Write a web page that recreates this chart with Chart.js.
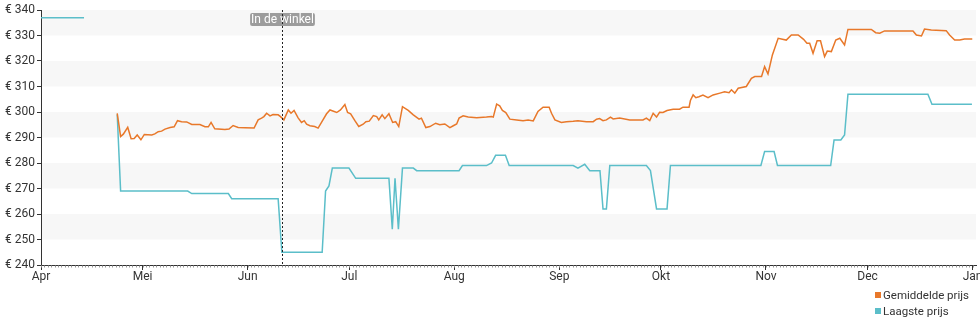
<!DOCTYPE html>
<html>
<head>
<meta charset="utf-8">
<script src="https://cdn.jsdelivr.net/npm/chart.js@4"></script>
<style>
  body { margin: 0; background: #fff; }
  #wrap { position: relative; width: 980px; height: 325px; }
  #legend { position: absolute; left: 875px; top: 288px; font: 11.5px Roboto, sans-serif; color: #333; line-height: 15.5px; }
  #legend .sq { display: inline-block; width: 6px; height: 6px; margin-right: 2px; vertical-align: 1px; }
</style>
</head>
<body>
<div id="wrap">
  <canvas id="priceChart" width="980" height="325"></canvas>
  <div id="legend"></div>
</div>
<script>
// x values are days counted from 1 April
const monthStarts = [0, 30, 61, 91, 122, 153, 183, 214, 244, 275];
const monthLabels = ['Apr', 'Mei', 'Jun', 'Jul', 'Aug', 'Sep', 'Okt', 'Nov', 'Dec', 'Jan'];
const yTicks = [240, 250, 260, 270, 280, 290, 300, 310, 320, 330, 340];

const storeDay = 71.1;
const storeLabel = 'In de winkel';

const avgDays = [22.5, 23.5, 24.3, 25.6, 26.6, 27.5, 28.4, 29.5, 30.5, 32.7, 33.6, 34.6, 35.6, 36.6, 38.1, 39.3, 40.3, 41.5, 43.0, 44.5,
  46.9, 48.4, 49.4, 50.2, 51.3, 54.3, 55.5, 56.7, 58.2, 60.2, 62.9, 64.1, 65.1, 65.8, 66.6, 67.6, 68.5, 70.0, 70.7, 71.7,
  73.0, 73.8, 74.7, 75.9, 76.9, 77.7, 78.4, 79.4, 80.8, 81.8, 82.8, 84.3, 85.3, 87.3, 88.4, 89.7, 90.5, 91.4, 92.7, 93.8,
  95.1, 95.9, 96.9, 98.1, 99.1, 99.7, 100.7, 101.5, 102.7, 103.8, 104.7, 105.6, 106.7, 108.4, 109.9, 111.6, 112.3, 113.6, 114.8, 116.5,
  117.7, 119.2, 120.7, 121.7, 122.7, 123.4, 124.6, 126.1, 128.6, 131.5, 133.0, 133.5, 134.5, 135.4, 136.2, 137.2, 138.4, 140.4, 142.3, 143.8,
  145.3, 146.7, 148.2, 150.0, 150.7, 151.7, 153.6, 155.1, 157.1, 158.5, 161.0, 163.0, 164.0, 164.9, 165.9, 166.9, 168.1, 168.9, 170.8, 173.8,
  177.7, 178.7, 179.7, 180.7, 181.7, 182.6, 183.6, 184.8, 186.6, 188.5, 189.5, 191.3, 191.7, 192.5, 193.3, 194.2, 195.4, 196.9, 198.4, 200.4,
  201.8, 203.1, 203.8, 204.8, 205.8, 208.2, 209.7, 210.7, 212.7, 213.6, 214.6, 215.9, 217.6, 220.0, 221.5, 223.5, 225.1, 226.1, 226.9, 227.9,
  229.1, 230.1, 231.3, 232.1, 233.3, 234.6, 235.8, 237.2, 238.2, 245.1, 246.4, 247.6, 249.0, 257.4, 258.4, 259.9, 260.8, 262.8, 267.2, 268.2,
  269.7, 271.2, 272.6, 274.9];
const avgPrices = [299.5, 290.4, 291.3, 294.0, 289.5, 289.6, 291.0, 289.1, 291.2, 291.0, 291.4, 292.3, 292.5, 293.3, 293.9, 294.2, 296.6, 296.2, 296.1, 295.1,
  295.1, 294.2, 294.2, 295.9, 293.4, 293.1, 293.3, 294.7, 293.9, 293.8, 293.7, 296.9, 297.6, 298.2, 299.5, 298.5, 299.0, 298.9, 298.2, 296.9,
  300.8, 299.5, 300.6, 297.7, 295.9, 296.6, 295.2, 294.6, 294.3, 293.7, 295.9, 299.3, 300.8, 299.8, 300.8, 302.9, 299.8, 299.3, 296.5, 294.3,
  295.2, 296.2, 296.4, 298.6, 298.2, 296.9, 298.9, 297.4, 299.3, 295.9, 296.2, 294.3, 302.1, 300.6, 298.9, 297.2, 297.6, 293.9, 294.3, 295.6,
  295.0, 295.3, 293.9, 294.6, 295.3, 297.6, 298.5, 298.0, 297.7, 298.0, 298.2, 298.0, 303.1, 302.4, 300.6, 299.8, 297.2, 296.9, 296.6, 296.9,
  296.5, 300.2, 301.9, 301.9, 299.5, 296.9, 295.9, 296.2, 296.4, 296.6, 296.2, 296.2, 297.2, 297.4, 296.6, 296.9, 298.0, 297.3, 297.6, 296.9,
  296.9, 297.6, 296.6, 299.5, 298.0, 299.9, 299.8, 300.6, 301.1, 301.1, 301.9, 301.9, 304.5, 306.7, 305.6, 306.0, 306.6, 305.6, 306.7, 307.4,
  307.9, 307.6, 308.7, 307.4, 309.3, 310.0, 313.2, 313.9, 313.9, 317.8, 314.9, 322.4, 328.9, 328.2, 330.2, 330.2, 328.5, 327.0, 327.0, 323.0,
  327.9, 327.9, 321.7, 323.9, 323.7, 328.2, 328.9, 326.3, 332.4, 332.4, 331.1, 330.9, 331.8, 331.8, 330.2, 329.8, 332.5, 332.2, 331.9, 330.2,
  328.2, 328.2, 328.6, 328.6];

// null breaks the line between the early April price and the rest
const lowDays = [0, 12.7, 13.5, 22.5, 23.5, 43.3, 44.5, 55.3, 56.3, 70.0, 71.1, 83.0, 84.0, 85.0, 86.0, 90.9, 92.9, 102.7, 103.7, 104.5,
  105.5, 106.7, 109.9, 110.9, 123.4, 124.4, 131.5, 133.0, 134.2, 137.1, 138.2, 157.1, 158.5, 160.5, 162.0, 165.0, 165.9, 166.9, 167.9, 178.7,
  179.9, 181.7, 184.8, 185.8, 212.5, 213.6, 216.4, 217.4, 233.1, 234.1, 236.1, 237.2, 238.2, 261.8, 263.0, 274.8];
const lowPrices = [337, 337, null, 299, 269, 269, 268, 268, 266, 266, 245, 245, 269, 271, 278, 278, 274, 274, 254, 274,
  254, 278, 278, 277, 277, 279, 279, 280, 283, 283, 279, 279, 278, 279.5, 277, 277, 262, 262, 279, 279,
  277, 262, 262, 279, 279, 284.5, 284.5, 279, 279, 289, 289, 291, 307, 307, 303, 303];

const toPoints = (xs, ys) => xs.map((x, i) => ({ x: x, y: ys[i] }));

const axisColor = '#333';
const tickFont = { family: 'Roboto', size: 12 };

// alternating light bands every 10 euro
const bands = {
  id: 'bands',
  beforeDraw(chart) {
    const { ctx, chartArea, scales: { y } } = chart;
    ctx.save();
    ctx.fillStyle = '#f7f7f7';
    for (let v = 250; v < 340; v += 20) {
      const top = y.getPixelForValue(v + 10);
      const bottom = y.getPixelForValue(v);
      ctx.fillRect(chartArea.left, top, chartArea.right - chartArea.left, bottom - top);
    }
    ctx.restore();
  }
};

// small day ticks under the x axis and the store marker
const extras = {
  id: 'extras',
  afterDraw(chart) {
    const { ctx, chartArea, scales: { x } } = chart;
    ctx.save();
    ctx.strokeStyle = '#999';
    ctx.lineWidth = 1;
    ctx.beginPath();
    for (let d = 0; d <= 275; d++) {
      const px = Math.round(x.getPixelForValue(d)) + 0.5;
      ctx.moveTo(px, chartArea.bottom + 0.5);
      ctx.lineTo(px, chartArea.bottom + 2.5);
    }
    ctx.stroke();

    const sx = Math.round(x.getPixelForValue(storeDay)) + 0.5;
    ctx.font = '12px Roboto';
    const w = ctx.measureText(storeLabel).width + 2;
    ctx.fillStyle = 'rgba(140,140,140,0.85)';
    ctx.beginPath();
    ctx.roundRect(sx - w / 2, chartArea.top + 3, w, 13, 2);
    ctx.fill();
    ctx.fillStyle = '#fff';
    ctx.textAlign = 'center';
    ctx.textBaseline = 'middle';
    ctx.fillText(storeLabel, sx, chartArea.top + 10);

    ctx.strokeStyle = '#222';
    ctx.setLineDash([2, 2]);
    ctx.beginPath();
    ctx.moveTo(sx, chartArea.top);
    ctx.lineTo(sx, chartArea.bottom);
    ctx.stroke();
    ctx.restore();
  }
};

const chart = new Chart(document.getElementById('priceChart'), {
  type: 'line',
  data: {
    datasets: [{
      label: 'Gemiddelde prijs',
      data: toPoints(avgDays, avgPrices),
      borderColor: '#e8782a',
      backgroundColor: '#e8782a',
      borderWidth: 1.5,
      pointRadius: 0,
      tension: 0
    }, {
      label: 'Laagste prijs',
      data: toPoints(lowDays, lowPrices),
      borderColor: '#5bbec9',
      backgroundColor: '#5bbec9',
      borderWidth: 1.5,
      pointRadius: 0,
      tension: 0,
      spanGaps: false
    }]
  },
  options: {
    responsive: false,
    animation: false,
    layout: { padding: { top: 10, right: 4, left: 0, bottom: 0 } },
    plugins: {
      legend: { display: false },
      tooltip: { enabled: false }
    },
    scales: {
      x: {
        type: 'linear',
        min: 0,
        max: 276,
        afterBuildTicks: (scale) => { scale.ticks = monthStarts.map(v => ({ value: v })); },
        afterFit: (scale) => { scale.height = 60; scale.paddingLeft = 0; scale.paddingRight = 0; },
        ticks: {
          autoSkip: false,
          maxRotation: 0,
          padding: 0,
          color: axisColor,
          font: tickFont,
          callback: (v, i) => monthLabels[i]
        },
        grid: { drawOnChartArea: false, tickLength: 5, color: axisColor },
        border: { color: axisColor }
      },
      y: {
        min: 240,
        max: 340,
        afterBuildTicks: (scale) => { scale.ticks = yTicks.map(v => ({ value: v })); },
        afterFit: (scale) => { scale.width = 41; scale.paddingTop = 0; scale.paddingBottom = 0; },
        ticks: {
          padding: 2,
          color: axisColor,
          font: tickFont,
          callback: (v) => '€ ' + v
        },
        grid: { drawOnChartArea: false, tickLength: 4, color: axisColor },
        border: { color: axisColor }
      }
    }
  },
  plugins: [bands, extras]
});

// legend below the plot, one entry per row
document.getElementById('legend').innerHTML = chart.data.datasets.map(ds =>
  '<div><span class="sq" style="background:' + ds.borderColor + '"></span>' + ds.label + '</div>'
).join('');
</script>
</body>
</html>
